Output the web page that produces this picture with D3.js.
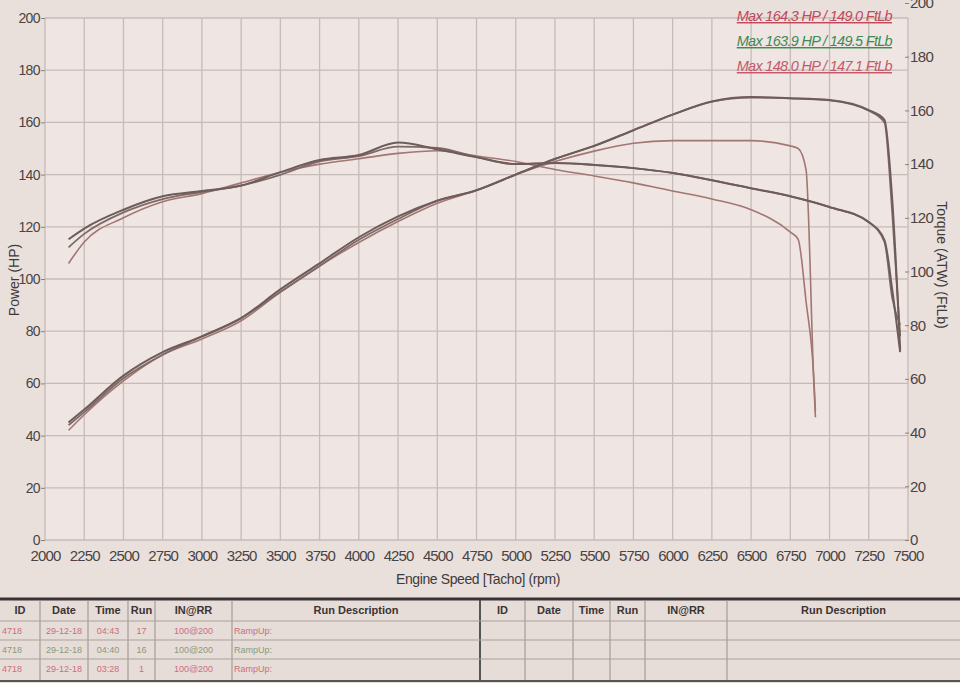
<!DOCTYPE html>
<html><head><meta charset="utf-8">
<script src="https://cdn.jsdelivr.net/npm/d3@7"></script>
<style>
body{margin:0;background:#e9e0dc;}
svg{font-family:"Liberation Sans",Arial,sans-serif;}
</style></head>
<body><div id="chart"></div>
<script>
// rpm grid for the curves
var rpm = [2150,2250,2500,2750,3000,3250,3500,3750,4000,4250,4500,4750,5000,5250,5500,5750,6000,6250,6500,6750,7000,7250,7350,7400,7450];
var powerRun17 = [45,50,63,72,78,85,96,106,116,124,130,134,140,146,151,157,163,168,169.7,169.3,168.6,164.7,161,130,73];
var torqueRun17 = [112,116,123,128,130,132,137,141.5,143.4,148,145.5,142.6,140,140.4,139.7,138.5,136.7,134,131,128,124,118.4,111.7,93,70];
var powerRun16 = [44,49,62,71,78,85,95,105,115,123,130,134,140,146,151,157,163,168,169.5,169.2,168.4,164.5,160,125,78];
var torqueRun16 = [109,114,122,127,129.6,132,136,141,143,146.5,146,142.6,140,140.4,139.7,138.5,136.7,134,131,128,124,118.4,111,90,80];
var rpmRun1 = [2150,2250,2500,2750,3000,3250,3500,3750,4000,4250,4500,4750,5000,5250,5500,5750,6000,6250,6500,6750,6800,6850,6900,6910];
var powerRun1 = [42,48,61,71,77,84,95,105,114,122,129,134,140,145,149,152,153,153,153,151,150,142,60,47];
var torqueRun1 = [103,111,120,126,129,133,137,140,142,144,145,143,141,138,135.6,133,130,127,123,114.7,112,89,60,48];

var legendText = ["Max 164.3 HP  / 149.0 FtLb","Max 163.9 HP  / 149.5 FtLb","Max 148.0 HP  / 147.1 FtLb"];
var legendColor = ["#c2485a","#3d8a55","#c25a6c"];
var tableHead = ["ID","Date","Time","Run","IN@RR","Run Description"];
var tableRows = [["4718","29-12-18","04:43","17","100@200","RampUp:"],
                 ["4718","29-12-18","04:40","16","100@200","RampUp:"],
                 ["4718","29-12-18","03:28","1","100@200","RampUp:"]];
var rowColor = ["#c86f80","#8a9a7a","#d06d80"];

var width = 960, height = 683;
var svg = d3.select('#chart').append('svg').attr('width',width).attr('height',height);

svg.append('rect').attr('width',width).attr('height',height).attr('fill','#e9e0dc');
svg.append('rect').attr('x',45).attr('y',18).attr('width',863).attr('height',522).attr('fill','#efe5e2');

var x = d3.scaleLinear().domain([2000,7500]).range([45,908]);
var yL = d3.scaleLinear().domain([0,200]).range([540,18]);
var yR = d3.scaleLinear().domain([0,200]).range([540,3]);

// grid
svg.append('g').selectAll('line').data(d3.range(2000,7501,250)).enter().append('line')
  .attr('x1',function(d){return x(d);}).attr('x2',function(d){return x(d);})
  .attr('y1',18).attr('y2',540).attr('stroke','#c7bbb7').attr('stroke-width',1.3);
svg.append('g').selectAll('line').data(d3.range(0,201,20)).enter().append('line')
  .attr('x1',45).attr('x2',908)
  .attr('y1',function(d){return yL(d);}).attr('y2',function(d){return yL(d);})
  .attr('stroke','#c7bbb7').attr('stroke-width',1.3);

var axX = svg.append('g').attr('transform','translate(0,540)')
  .call(d3.axisBottom(x).tickValues(d3.range(2000,7501,250)).tickFormat(d3.format('d')).tickSize(0).tickPadding(10));
var axL = svg.append('g').attr('transform','translate(45,0)')
  .call(d3.axisLeft(yL).tickValues(d3.range(0,201,20)).tickSize(4).tickPadding(1));
var axR = svg.append('g').attr('transform','translate(905,0)')
  .call(d3.axisRight(yR).tickValues(d3.range(0,201,20)).tickSize(4).tickPadding(1));
[axX,axL,axR].forEach(function(a){
  a.select('.domain').remove();
  a.selectAll('text').attr('fill','#4a4444').style('font-size','14px').style('letter-spacing','-0.6px');
  a.selectAll('line').attr('stroke','#8a8080');
});
axR.selectAll('text').style('font-size','15px');
axX.selectAll('text').style('font-size','15px').style('letter-spacing','-0.9px');

svg.append('text').attr('transform','translate(19,280) rotate(-90)').attr('text-anchor','middle')
  .attr('fill','#3f3a3a').style('font-size','14px').text('Power (HP)');
svg.append('text').attr('transform','translate(937,265) rotate(90)').attr('text-anchor','middle')
  .attr('fill','#3f3a3a').style('font-size','14px').text('Torque (ATW) (FtLb)');
svg.append('text').attr('x',478).attr('y',584).attr('text-anchor','middle')
  .attr('fill','#3f3a3a').style('font-size','14px').style('letter-spacing','-0.4px').text('Engine Speed [Tacho] (rpm)');

function draw(xs, ys, scale, color, w){
  var line = d3.line().x(function(d,i){return x(xs[i]);}).y(function(d){return scale(d);}).curve(d3.curveMonotoneX);
  svg.append('path').datum(ys).attr('d',line).attr('fill','none').attr('stroke',color).attr('stroke-width',w);
}
draw(rpmRun1,powerRun1,yL,'#a27672',1.6);
draw(rpmRun1,torqueRun1,yR,'#a27672',1.6);
draw(rpm,powerRun16,yL,'#7d6a66',1.8);
draw(rpm,torqueRun16,yR,'#7d6a66',1.8);
draw(rpm,powerRun17,yL,'#6e5c5a',2);
draw(rpm,torqueRun17,yR,'#6e5c5a',2);

// legend
legendText.forEach(function(t,i){
  svg.append('text').attr('x',892).attr('y',21+i*25).attr('text-anchor','end')
    .attr('fill',legendColor[i]).style('font-size','14.5px').style('font-style','italic')
    .style('letter-spacing','-0.7px').style('text-decoration','underline').text(t);
});

// table
var tb = svg.append('g');
tb.append('rect').attr('x',0).attr('y',598).attr('width',960).attr('height',85).attr('fill','#e6dcd8');
tb.append('line').attr('x1',0).attr('x2',960).attr('y1',599).attr('y2',599).attr('stroke','#3a3434').attr('stroke-width',3);
tb.append('line').attr('x1',0).attr('x2',960).attr('y1',681).attr('y2',681).attr('stroke','#555').attr('stroke-width',2);
var cols = [0,40,88,128,155,232,480];
var colsR = [480,525,573,610,645,727,960];
[cols,colsR].forEach(function(cs){
  cs.slice(1,-1).forEach(function(c){
    tb.append('line').attr('x1',c).attr('x2',c).attr('y1',600).attr('y2',680).attr('stroke','#9a8e8a');
  });
  tableHead.forEach(function(h,i){
    tb.append('text').attr('x',(cs[i]+cs[i+1])/2).attr('y',614).attr('text-anchor','middle')
      .attr('fill','#3a3434').style('font-size','11px').style('font-weight','bold').text(h);
  });
});
tb.append('line').attr('x1',480).attr('x2',480).attr('y1',600).attr('y2',680).attr('stroke','#555').attr('stroke-width',2);
[621,640,659].forEach(function(yy){
  tb.append('line').attr('x1',0).attr('x2',960).attr('y1',yy).attr('y2',yy).attr('stroke','#aaa09c');
});
tableRows.forEach(function(r,j){
  r.forEach(function(v,i){
    var cx = i==5 ? cols[i]+2 : (i==0 ? 2 : (cols[i]+cols[i+1])/2);
    tb.append('text').attr('x',cx).attr('y',634+j*19).attr('text-anchor',i==5||i==0?'start':'middle')
      .attr('fill',rowColor[j]).style('font-size','9px').text(v);
  });
});
</script></body></html>
